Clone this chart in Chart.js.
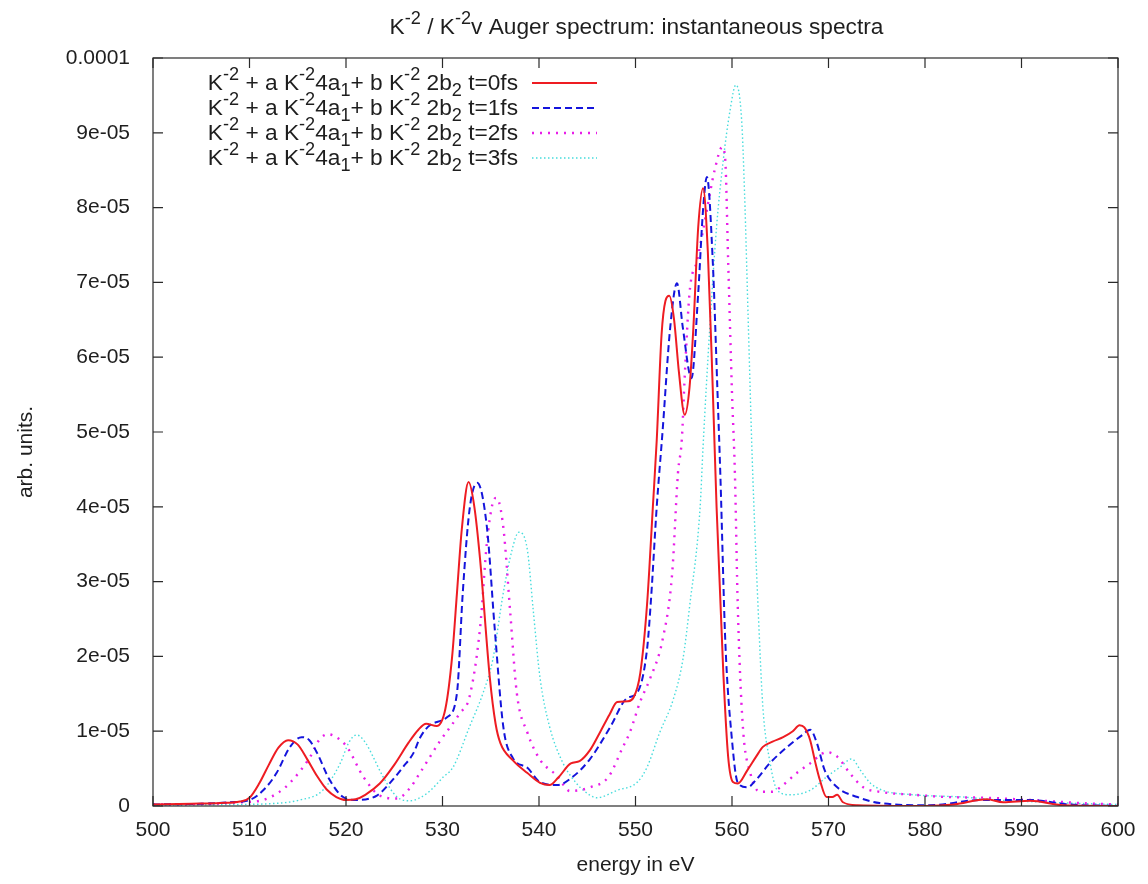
<!DOCTYPE html>
<html>
<head>
<meta charset="utf-8">
<title>Auger spectrum</title>
<script src="https://cdn.jsdelivr.net/npm/chart.js@4.4.0/dist/chart.umd.min.js"></script>
<style>
  html, body { margin: 0; padding: 0; background: #fff; }
  #wrap { width: 1148px; height: 884px; }
</style>
</head>
<body>
<div id="wrap"><canvas id="spectrum" width="1148" height="884"></canvas></div>
<script>
const UNIT = 1e-5;

const energyT0 = [500, 504, 507, 509, 510, 511, 512, 513, 514, 515, 516, 517, 518, 519, 520, 521, 522, 523.5, 525, 526.5, 527.5, 528.3, 529.4, 530.3, 531, 531.5, 532, 532.7, 533.3, 533.9, 534.9, 535.5, 536, 537.3, 538.8, 540.1, 541.1, 542, 543.3, 544.2, 545.3, 546.3, 547.3, 548.1, 549.2, 549.8, 550.5, 551.2, 551.8, 552.2, 552.7, 553.1, 553.5, 554, 554.5, 555.1, 555.6, 556, 556.5, 557, 557.5, 558, 558.4, 559.1, 559.6, 560.1, 560.6, 561.6, 562.5, 563.2, 564.2, 565.3, 566.3, 567, 567.5, 568.1, 568.6, 569.1, 569.8, 570.4, 570.9, 571.5, 573, 580, 583, 586.4, 588.1, 590.9, 594.3, 600];
const valuesT0 = [0.02, 0.03, 0.04, 0.06, 0.11, 0.3, 0.55, 0.78, 0.88, 0.82, 0.62, 0.4, 0.22, 0.12, 0.08, 0.09, 0.15, 0.3, 0.55, 0.85, 1.02, 1.1, 1.07, 1.3, 2.0, 2.85, 3.7, 4.33, 4.0, 3.29, 1.72, 1.1, 0.84, 0.61, 0.44, 0.31, 0.28, 0.38, 0.57, 0.6, 0.75, 0.98, 1.22, 1.39, 1.4, 1.45, 1.78, 2.7, 4.0, 4.89, 6.3, 6.75, 6.82, 6.5, 5.8, 5.23, 5.6, 6.4, 7.74, 8.26, 7.4, 5.6, 4.0, 1.78, 0.66, 0.32, 0.3, 0.48, 0.66, 0.79, 0.86, 0.92, 1.0, 1.08, 1.05, 0.88, 0.6, 0.35, 0.12, 0.12, 0.15, 0.05, 0.01, 0.0, 0.02, 0.09, 0.05, 0.07, 0.01, 0.0];

const energyT1 = [500, 505, 508, 510, 511.5, 512.8, 514.2, 515.4, 516.2, 517, 518.3, 519.7, 521.1, 523.2, 524.5, 525.9, 527, 527.7, 528.7, 530.5, 531.5, 532.1, 532.8, 533.6, 534.6, 535.4, 536.3, 537.3, 538.8, 540.1, 541.9, 543.5, 545.3, 547.4, 549.1, 550.2, 551.2, 551.6, 552.2, 552.8, 553.6, 554.3, 554.9, 555.8, 556.5, 557, 557.4, 558, 558.5, 558.8, 559.3, 560, 560.6, 561.6, 562.5, 563.9, 566, 567.3, 568.1, 568.8, 569.6, 570.9, 573, 575.3, 580.5, 585.7, 587.5, 590.9, 595, 600];
const valuesT1 = [0.02, 0.03, 0.05, 0.08, 0.22, 0.44, 0.79, 0.92, 0.88, 0.71, 0.35, 0.12, 0.08, 0.14, 0.3, 0.52, 0.71, 0.92, 1.08, 1.19, 1.51, 2.85, 3.96, 4.32, 3.73, 2.39, 1.06, 0.64, 0.51, 0.32, 0.28, 0.39, 0.63, 1.06, 1.44, 1.52, 2.1, 2.75, 4.0, 5.0, 6.4, 6.99, 6.4, 5.72, 6.86, 7.97, 8.41, 7.3, 5.52, 4.4, 2.22, 0.88, 0.31, 0.25, 0.35, 0.57, 0.82, 0.95, 1.02, 0.84, 0.48, 0.25, 0.12, 0.04, 0.01, 0.08, 0.08, 0.08, 0.02, 0.0];

const energyT2 = [500, 506, 509, 511.4, 513, 514.2, 516.3, 517.2, 518.1, 519, 520.1, 521.8, 523.5, 525.3, 526.5, 527.7, 529.7, 531.8, 532.8, 533.9, 534.6, 535.2, 535.6, 536.3, 537, 537.7, 538.8, 540.1, 541.9, 543.2, 545.3, 547.2, 548.7, 549.4, 550.5, 551.5, 552.8, 553.8, 554.4, 554.8, 555.1, 555.6, 556.4, 557.4, 558.2, 559, 559.3, 559.6, 560, 560.3, 560.6, 561.1, 561.9, 562.9, 564.2, 565, 566.7, 568.1, 569.8, 570.9, 572.2, 573.6, 575.3, 578.8, 582.3, 586.4, 590.9, 596, 600];
const valuesT2 = [0.02, 0.03, 0.05, 0.08, 0.18, 0.31, 0.66, 0.88, 0.96, 0.92, 0.79, 0.39, 0.14, 0.1, 0.22, 0.45, 0.86, 1.24, 1.46, 2.39, 3.52, 4.05, 4.12, 3.73, 2.62, 1.51, 0.98, 0.62, 0.4, 0.2, 0.25, 0.39, 0.79, 0.98, 1.4, 1.7, 2.22, 3.11, 4.45, 4.9, 5.74, 6.86, 7.3, 7.97, 8.5, 8.81, 8.64, 7.3, 5.52, 4.45, 2.66, 1.11, 0.44, 0.19, 0.19, 0.25, 0.44, 0.57, 0.72, 0.66, 0.44, 0.25, 0.19, 0.15, 0.12, 0.11, 0.08, 0.04, 0.02];

const energyT3 = [500, 508, 512, 515.2, 517.6, 519.4, 520.3, 521.1, 522, 522.8, 523.8, 525.3, 526.6, 528.4, 530.1, 531.1, 532.8, 534.2, 535.2, 536.3, 537.2, 537.9, 538.8, 539.4, 540.1, 541.1, 542.5, 543.9, 544.6, 546, 548.1, 550.2, 551.2, 552.5, 553.9, 554.9, 555.6, 556.7, 557, 557.7, 558.4, 559.1, 559.8, 560.4, 561, 561.3, 561.7, 562.1, 562.7, 563.2, 563.9, 564.7, 566, 568.1, 569.8, 571.2, 572.4, 573.3, 574.3, 575.6, 578.8, 583.9, 587.5, 592.6, 597, 600];
const valuesT3 = [0.01, 0.02, 0.03, 0.08, 0.21, 0.57, 0.85, 0.95, 0.85, 0.66, 0.4, 0.12, 0.07, 0.17, 0.39, 0.52, 1.06, 1.51, 1.95, 2.85, 3.42, 3.66, 3.42, 2.62, 1.72, 1.06, 0.57, 0.3, 0.21, 0.11, 0.21, 0.32, 0.52, 0.98, 1.42, 1.95, 2.66, 4.0, 4.8, 6.4, 7.74, 8.64, 9.3, 9.64, 9.17, 8.2, 6.4, 4.63, 2.66, 1.32, 0.61, 0.21, 0.15, 0.21, 0.39, 0.52, 0.63, 0.48, 0.31, 0.21, 0.15, 0.12, 0.08, 0.05, 0.03, 0.02];

const legendLabels = [
    'K^{-2} + a K^{-2}4a_{1}+ b K^{-2} 2b_{2} t=0fs',
    'K^{-2} + a K^{-2}4a_{1}+ b K^{-2} 2b_{2} t=1fs',
    'K^{-2} + a K^{-2}4a_{1}+ b K^{-2} 2b_{2} t=2fs',
    'K^{-2} + a K^{-2}4a_{1}+ b K^{-2} 2b_{2} t=3fs'
];
const titleText = 'K^{-2} / K^{-2}v Auger spectrum: instantaneous spectra';
const xTitle = 'energy in eV';
const yTitle = 'arb. units.';
const xTicks = [500, 510, 520, 530, 540, 550, 560, 570, 580, 590, 600];

const FONT = '"Liberation Sans", Arial, Helvetica, sans-serif';
const TEXT = '#1e1e1e';
const TICK = 10;

const series = [
    { e: energyT0, v: valuesT0, color: '#ee1c22', width: 2, dash: [] },
    { e: energyT1, v: valuesT1, color: '#1414dc', width: 2, dash: [7, 4] },
    { e: energyT2, v: valuesT2, color: '#e81ee8', width: 2.4, dash: [2, 6] },
    { e: energyT3, v: valuesT3, color: '#46dcdc', width: 1.4, dash: [1.5, 2.5] }
];

// gnuplot style enhanced text: ^{..} superscript, _{..} subscript
function parseRich(str) {
    const segs = [];
    const re = /([\^_])\{([^}]*)\}/g;
    let last = 0, m;
    while ((m = re.exec(str))) {
        if (m.index > last) segs.push({ t: str.slice(last, m.index) });
        segs.push({ t: m[2], k: m[1] === '^' ? 'sup' : 'sub' });
        last = re.lastIndex;
    }
    if (last < str.length) segs.push({ t: str.slice(last) });
    return segs;
}

function richWidth(ctx, segs, size) {
    let w = 0;
    segs.forEach(s => {
        ctx.font = (s.k ? size * 0.8 : size) + 'px ' + FONT;
        w += ctx.measureText(s.t).width;
    });
    return w;
}

function drawRich(ctx, segs, x, y, size, align) {
    const w = richWidth(ctx, segs, size);
    let cx = align === 'right' ? x - w : align === 'center' ? x - w / 2 : x;
    ctx.textAlign = 'left';
    ctx.textBaseline = 'alphabetic';
    segs.forEach(s => {
        ctx.font = (s.k ? size * 0.8 : size) + 'px ' + FONT;
        const dy = s.k === 'sup' ? -0.42 * size : s.k === 'sub' ? 0.28 * size : 0;
        ctx.fillText(s.t, cx, y + dy);
        cx += ctx.measureText(s.t).width;
    });
}

const gnuFrame = {
    id: 'gnuFrame',
    afterDraw(chart) {
        const { ctx, chartArea: a, scales: { x, y } } = chart;
        ctx.save();
        ctx.strokeStyle = '#2a2a2a';
        ctx.lineWidth = 1.2;
        ctx.strokeRect(a.left, a.top, a.right - a.left, a.bottom - a.top);
        ctx.beginPath();
        x.ticks.forEach(t => {
            const px = x.getPixelForValue(t.value);
            ctx.moveTo(px, a.bottom); ctx.lineTo(px, a.bottom - TICK);
            ctx.moveTo(px, a.top); ctx.lineTo(px, a.top + TICK);
        });
        y.ticks.forEach(t => {
            const py = y.getPixelForValue(t.value);
            ctx.moveTo(a.left, py); ctx.lineTo(a.left + TICK, py);
            ctx.moveTo(a.right, py); ctx.lineTo(a.right - TICK, py);
        });
        ctx.stroke();

        ctx.fillStyle = TEXT;
        drawRich(ctx, parseRich(titleText), (a.left + a.right) / 2 + 1, 34, 22.7, 'center');

        // y axis title, rotated
        ctx.save();
        ctx.translate(26, 452);
        ctx.rotate(-Math.PI / 2);
        ctx.font = '21px ' + FONT;
        ctx.textAlign = 'center';
        ctx.textBaseline = 'middle';
        ctx.fillText(yTitle, 0, 0);
        ctx.restore();

        // key, top left inside the frame
        series.forEach((s, i) => {
            const base = 90 + 25 * i;
            ctx.fillStyle = TEXT;
            drawRich(ctx, parseRich(legendLabels[i]), 518, base, 22.7, 'right');
            ctx.strokeStyle = s.color;
            ctx.lineWidth = s.width;
            ctx.setLineDash(s.dash);
            ctx.beginPath();
            ctx.moveTo(532, base - 7);
            ctx.lineTo(597, base - 7);
            ctx.stroke();
            ctx.setLineDash([]);
        });
        ctx.restore();
    }
};

function yLabel(v) {
    if (Math.abs(v) < 1e-12) return '0';
    if (Math.abs(v - 1e-4) < 1e-12) return '0.0001';
    return Math.round(v / UNIT) + 'e-05';
}

new Chart(document.getElementById('spectrum'), {
    type: 'line',
    data: {
        datasets: series.map(s => ({
            data: s.e.map((e, i) => ({ x: e, y: s.v[i] * UNIT })),
            borderColor: s.color,
            borderWidth: s.width,
            borderDash: s.dash,
            pointRadius: 0,
            fill: false,
            cubicInterpolationMode: 'monotone'
        }))
    },
    options: {
        responsive: false,
        animation: false,
        devicePixelRatio: 1,
        layout: { padding: { top: 58, right: 30, left: 0, bottom: 0 } },
        plugins: { legend: { display: false }, title: { display: false }, tooltip: { enabled: false } },
        scales: {
            x: {
                type: 'linear', min: 500, max: 600,
                afterBuildTicks: scale => { scale.ticks = xTicks.map(v => ({ value: v })); },
                afterFit: scale => { scale.height = 78; },
                grid: { display: false },
                border: { display: false },
                ticks: { color: TEXT, font: { family: FONT, size: 21 }, padding: 4, maxRotation: 0 },
                title: { display: true, text: xTitle, color: TEXT, font: { family: FONT, size: 21 }, padding: { top: 0, bottom: 6 } }
            },
            y: {
                type: 'linear', min: 0, max: 1e-4,
                ticks: { stepSize: UNIT, color: TEXT, font: { family: FONT, size: 21 }, padding: 15, callback: yLabel },
                afterFit: scale => { scale.width = 153; },
                grid: { display: false },
                border: { display: false },
                title: { display: false }
            }
        }
    },
    plugins: [gnuFrame]
});
</script>
</body>
</html>
